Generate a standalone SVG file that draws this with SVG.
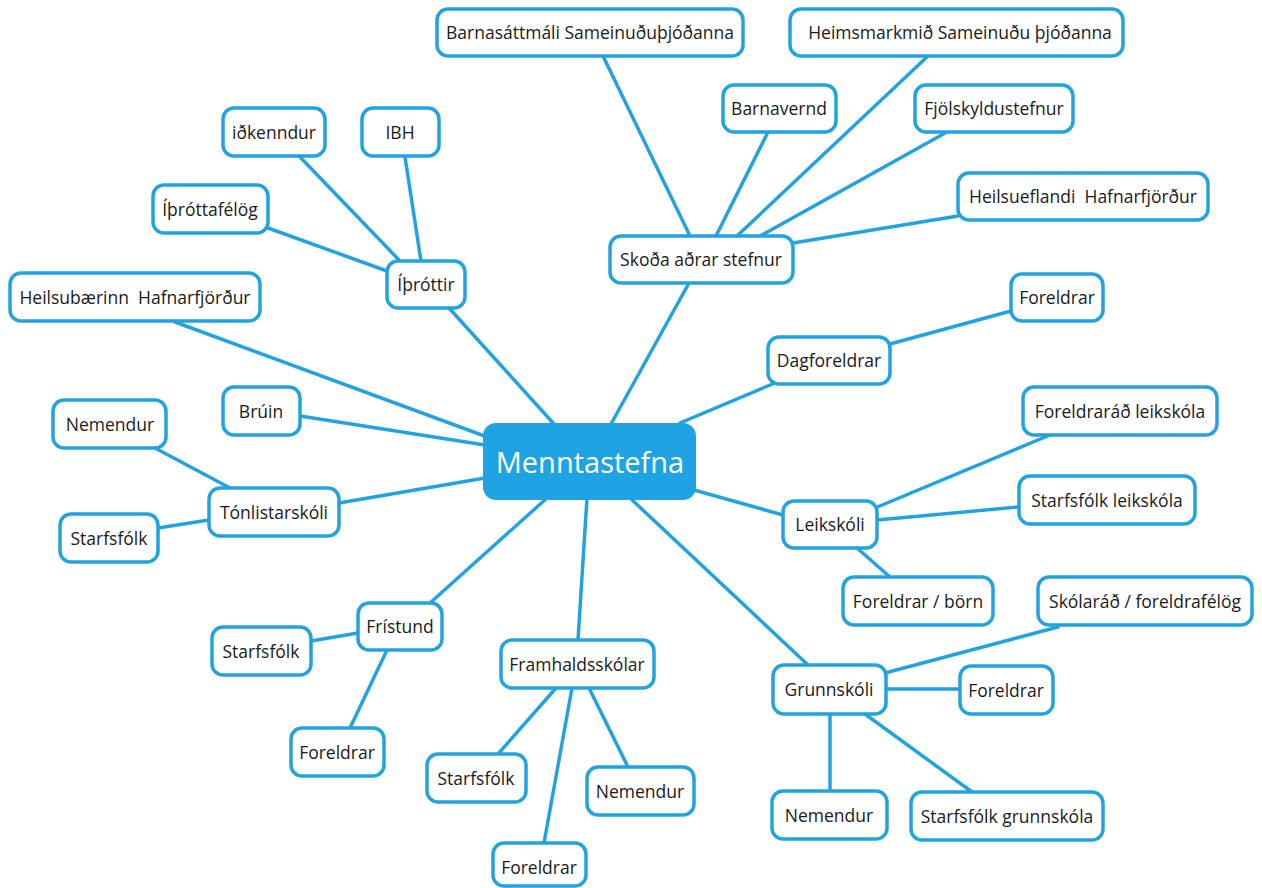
<svg xmlns="http://www.w3.org/2000/svg" width="1262" height="888" viewBox="0 0 1262 888">
<style>
.n rect{fill:#fff;stroke:#22a3e0;stroke-width:3.5}
.n text{font-family:"Open Sans","Noto Sans",sans-serif;font-size:17.5px;fill:#1a1a1a;text-anchor:middle}
#conn line{stroke:#22a3e0;stroke-width:3.5;stroke-linecap:round}
</style>
<rect width="1262" height="888" fill="#fff"/>
<g id="conn">
<line x1="611" y1="424" x2="689" y2="283"/>
<line x1="554" y1="424" x2="449" y2="308"/>
<line x1="490" y1="438" x2="175" y2="322"/>
<line x1="300" y1="416" x2="485" y2="445"/>
<line x1="339" y1="503" x2="485" y2="478"/>
<line x1="430" y1="603" x2="547" y2="498"/>
<line x1="578" y1="640" x2="587" y2="498"/>
<line x1="808" y1="665" x2="630" y2="498"/>
<line x1="783" y1="515" x2="694" y2="490"/>
<line x1="680" y1="423" x2="775" y2="383"/>
<line x1="690" y1="236" x2="603" y2="56"/>
<line x1="716" y1="236" x2="768" y2="132"/>
<line x1="737" y1="236" x2="928" y2="56"/>
<line x1="760" y1="236" x2="947" y2="132"/>
<line x1="793" y1="243" x2="958" y2="216"/>
<line x1="300" y1="157" x2="400" y2="261"/>
<line x1="405" y1="157" x2="421" y2="261"/>
<line x1="268" y1="228" x2="387" y2="271"/>
<line x1="155" y1="448" x2="230" y2="488"/>
<line x1="158" y1="528" x2="209" y2="520"/>
<line x1="311" y1="641" x2="358" y2="633"/>
<line x1="387" y1="650" x2="350" y2="728"/>
<line x1="498" y1="754" x2="556" y2="688"/>
<line x1="544" y1="843" x2="572" y2="688"/>
<line x1="628" y1="767" x2="589" y2="688"/>
<line x1="890" y1="344" x2="1011" y2="311"/>
<line x1="875" y1="508" x2="1050" y2="435"/>
<line x1="877" y1="520" x2="1019" y2="507"/>
<line x1="857" y1="548" x2="890" y2="577"/>
<line x1="885" y1="673" x2="1058" y2="627"/>
<line x1="886" y1="689" x2="960" y2="689"/>
<line x1="830" y1="714" x2="830" y2="791"/>
<line x1="865" y1="714" x2="972" y2="792"/>
</g>
<g id="center"><rect x="483" y="423" width="213" height="77" rx="13" fill="#1fa3e2"/><text x="590" y="473" font-family="'Open Sans','Noto Sans',sans-serif" font-size="29" fill="#fff" text-anchor="middle">Menntastefna</text></g>
<g id="barnasattmali" class="n"><rect x="437" y="9" width="306" height="47" rx="11"/><text x="590" y="39">Barnasáttmáli Sameinuðuþjóðanna</text></g>
<g id="heimsmarkmid" class="n"><rect x="790" y="9" width="333" height="47" rx="11"/><text x="960" y="39">Heimsmarkmið Sameinuðu þjóðanna</text></g>
<g id="barnavernd" class="n"><rect x="723" y="85" width="113" height="47" rx="11"/><text x="779" y="115">Barnavernd</text></g>
<g id="fjolskyldustefnur" class="n"><rect x="915" y="85" width="158" height="47" rx="11"/><text x="994" y="115">Fjölskyldustefnur</text></g>
<g id="heilsueflandi" class="n"><rect x="958" y="173" width="250" height="47" rx="11"/><text x="1083" y="203" xml:space="preserve">Heilsueflandi  Hafnarfjörður</text></g>
<g id="skoda" class="n"><rect x="610" y="236" width="183" height="47" rx="11"/><text x="701" y="266">Skoða aðrar stefnur</text></g>
<g id="idkenndur" class="n"><rect x="223" y="108" width="102" height="48" rx="11"/><text x="274" y="139">iðkenndur</text></g>
<g id="ibh" class="n"><rect x="362" y="108" width="77" height="48" rx="11"/><text x="400" y="139">IBH</text></g>
<g id="ithrottafelog" class="n"><rect x="153" y="185" width="115" height="48" rx="11"/><text x="210" y="216">Íþróttafélög</text></g>
<g id="ithrottir" class="n"><rect x="387" y="261" width="78" height="47" rx="11"/><text x="426" y="291">Íþróttir</text></g>
<g id="heilsubaerinn" class="n"><rect x="10" y="273" width="250" height="48" rx="11"/><text x="135" y="304" xml:space="preserve">Heilsubærinn  Hafnarfjörður</text></g>
<g id="bruin" class="n"><rect x="223" y="387" width="77" height="48" rx="11"/><text x="261" y="418">Brúin</text></g>
<g id="nemendur-t" class="n"><rect x="53" y="400" width="113" height="48" rx="11"/><text x="110" y="431">Nemendur</text></g>
<g id="tonlistarskoli" class="n"><rect x="209" y="488" width="130" height="48" rx="11"/><text x="274" y="519">Tónlistarskóli</text></g>
<g id="starfsfolk-t" class="n"><rect x="60" y="514" width="98" height="48" rx="11"/><text x="109" y="545">Starfsfólk</text></g>
<g id="dagforeldrar" class="n"><rect x="768" y="337" width="122" height="47" rx="11"/><text x="829" y="367">Dagforeldrar</text></g>
<g id="foreldrar-d" class="n"><rect x="1011" y="274" width="92" height="47" rx="11"/><text x="1057" y="304">Foreldrar</text></g>
<g id="foreldrarad" class="n"><rect x="1023" y="387" width="194" height="48" rx="11"/><text x="1120" y="418">Foreldraráð leikskóla</text></g>
<g id="starfsfolk-l" class="n"><rect x="1019" y="476" width="176" height="48" rx="11"/><text x="1107" y="507">Starfsfólk leikskóla</text></g>
<g id="leikskoli" class="n"><rect x="783" y="501" width="94" height="47" rx="11"/><text x="830" y="531">Leikskóli</text></g>
<g id="foreldrar-born" class="n"><rect x="843" y="577" width="150" height="48" rx="11"/><text x="918" y="608">Foreldrar / börn</text></g>
<g id="skolarad" class="n"><rect x="1038" y="577" width="214" height="48" rx="11"/><text x="1145" y="608">Skólaráð / foreldrafélög</text></g>
<g id="grunnskoli" class="n"><rect x="773" y="665" width="113" height="49" rx="11"/><text x="829" y="696">Grunnskóli</text></g>
<g id="foreldrar-g" class="n"><rect x="960" y="666" width="93" height="48" rx="11"/><text x="1006" y="697">Foreldrar</text></g>
<g id="nemendur-g" class="n"><rect x="772" y="791" width="115" height="48" rx="11"/><text x="829" y="822">Nemendur</text></g>
<g id="starfsfolk-g" class="n"><rect x="911" y="792" width="192" height="48" rx="11"/><text x="1007" y="823">Starfsfólk grunnskóla</text></g>
<g id="fristund" class="n"><rect x="358" y="603" width="84" height="47" rx="11"/><text x="400" y="633">Frístund</text></g>
<g id="starfsfolk-f" class="n"><rect x="212" y="627" width="99" height="48" rx="11"/><text x="261" y="658">Starfsfólk</text></g>
<g id="foreldrar-f" class="n"><rect x="291" y="728" width="93" height="48" rx="11"/><text x="337" y="759">Foreldrar</text></g>
<g id="framhaldsskolar" class="n"><rect x="501" y="640" width="153" height="48" rx="11"/><text x="577" y="671">Framhaldsskólar</text></g>
<g id="starfsfolk-fr" class="n"><rect x="427" y="754" width="99" height="48" rx="11"/><text x="476" y="785">Starfsfólk</text></g>
<g id="nemendur-fr" class="n"><rect x="587" y="767" width="107" height="48" rx="11"/><text x="640" y="798">Nemendur</text></g>
<g id="foreldrar-fr" class="n"><rect x="493" y="843" width="93" height="43" rx="11"/><text x="539" y="874">Foreldrar</text></g>
</svg>
